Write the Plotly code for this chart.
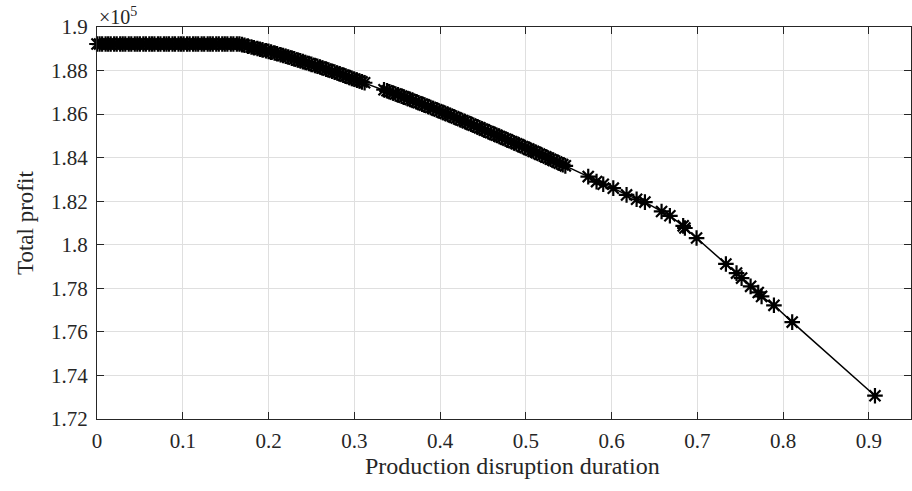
import numpy as np
import plotly.graph_objects as go

# Production disruption duration (x) and total profit (y)
duration = [
    0, 0.003, 0.006, 0.010, 0.013, 0.016, 0.020, 0.023, 0.027, 0.030,
    0.033, 0.037, 0.040, 0.044, 0.047, 0.050, 0.054, 0.057, 0.061, 0.064,
    0.067, 0.071, 0.074, 0.078, 0.081, 0.084, 0.088, 0.091, 0.095, 0.098,
    0.101, 0.105, 0.108, 0.112, 0.115, 0.118, 0.122, 0.125, 0.129, 0.132,
    0.135, 0.139, 0.142, 0.146, 0.149, 0.152, 0.156, 0.159, 0.163, 0.166,
    0.169, 0.172, 0.176, 0.180, 0.183, 0.187, 0.190, 0.193, 0.197, 0.200,
    0.203, 0.207, 0.210, 0.214, 0.217, 0.220, 0.223, 0.227, 0.230, 0.234,
    0.237, 0.240, 0.243, 0.247, 0.250, 0.254, 0.257, 0.260, 0.263, 0.267,
    0.270, 0.274, 0.277, 0.280, 0.283, 0.287, 0.290, 0.294, 0.297, 0.300,
    0.303, 0.306, 0.309, 0.312,
    0.3346, 0.338, 0.341, 0.345, 0.348, 0.351, 0.355, 0.358, 0.362, 0.365,
    0.368, 0.372, 0.375, 0.379, 0.382, 0.386, 0.389, 0.392, 0.396, 0.399,
    0.403, 0.406, 0.409, 0.412, 0.416, 0.419, 0.423, 0.426, 0.429, 0.432,
    0.436, 0.439, 0.443, 0.446, 0.449, 0.452, 0.456, 0.459, 0.463, 0.466,
    0.469, 0.472, 0.476, 0.479, 0.483, 0.486, 0.489, 0.492, 0.496, 0.499,
    0.503, 0.506, 0.509, 0.512, 0.516, 0.519, 0.523, 0.526, 0.529, 0.532,
    0.536, 0.539, 0.543, 0.546,
    0.5727, 0.5824, 0.5902, 0.6019, 0.6174, 0.6291, 0.6388, 0.6582, 0.6679,
    0.6834, 0.6854, 0.6990, 0.7332, 0.7456, 0.7515, 0.7620, 0.7709, 0.7748,
    0.7892, 0.8105, 0.907,
]

total_profit = [
    189220, 189218, 189222, 189220, 189219, 189221, 189220, 189222, 189218, 189220,
    189221, 189219, 189220, 189222, 189220, 189218, 189220, 189221, 189220, 189219,
    189222, 189220, 189218, 189220, 189221, 189220, 189219, 189222, 189220, 189218,
    189220, 189221, 189220, 189219, 189222, 189220, 189218, 189220, 189221, 189220,
    189219, 189222, 189220, 189218, 189220, 189221, 189220, 189219, 189222, 189220,
    189190, 189160, 189120, 189080, 189050, 189010, 188980, 188950, 188910, 188880,
    188847, 188803, 188770, 188726, 188693, 188660, 188622, 188572, 188535, 188485,
    188447, 188410, 188372, 188322, 188285, 188235, 188197, 188160, 188119, 188065,
    188025, 187971, 187930, 187890, 187846, 187788, 187745, 187687, 187643, 187600,
    187560, 187520, 187480, 187440,
    187120, 187070, 187027, 186968, 186925, 186885, 186825, 186780, 186720, 186675,
    186630, 186569, 186522, 186460, 186414, 186352, 186305, 186258, 186194, 186146,
    186082, 186034, 185986, 185937, 185871, 185821, 185755, 185706, 185656, 185606,
    185538, 185487, 185419, 185368, 185317, 185266, 185198, 185147, 185079, 185028,
    184977, 184926, 184858, 184807, 184739, 184688, 184637, 184585, 184515, 184462,
    184392, 184340, 184287, 184234, 184162, 184108, 184036, 183982, 183928, 183874,
    183803, 183750, 183678, 183625,
    183130, 182900, 182780, 182600, 182290, 182090, 181960, 181530, 181330,
    180870, 180770, 180310, 179120, 178700, 178470, 178090, 177810, 177630,
    177220, 176450, 173070,
]

x_ticks = [0, 0.1, 0.2, 0.3, 0.4, 0.5, 0.6, 0.7, 0.8, 0.9]
x_tick_labels = ["0", "0.1", "0.2", "0.3", "0.4", "0.5", "0.6", "0.7", "0.8", "0.9"]
y_ticks = [1.72, 1.74, 1.76, 1.78, 1.80, 1.82, 1.84, 1.86, 1.88, 1.90]
y_tick_labels = ["1.72", "1.74", "1.76", "1.78", "1.8", "1.82", "1.84", "1.86", "1.88", "1.9"]

y_scaled = np.array(total_profit) / 1e5

FONT = "Liberation Serif"
AX = "#262626"

fig = go.Figure()
fig.add_trace(go.Scatter(
    x=duration, y=y_scaled, mode="lines+markers",
    line=dict(color="black", width=1.5),
    marker=dict(symbol="asterisk-open", size=13, color="black",
                line=dict(color="#111111", width=2.2)),
    cliponaxis=False, showlegend=False,
))

axis_common = dict(
    showline=True, linecolor=AX, linewidth=1, mirror="ticks",
    ticks="inside", ticklen=7, tickwidth=1, tickcolor=AX,
    showgrid=True, gridcolor="#dfdfdf", gridwidth=1, zeroline=False,
    tickfont=dict(family=FONT, size=21, color=AX),
    automargin=False,
)

fig.update_layout(
    width=912, height=491,
    margin=dict(l=97, r=1, t=27, b=72),
    paper_bgcolor="white", plot_bgcolor="white",
    font=dict(family=FONT, color=AX),
    xaxis=dict(range=[0, 0.949], tickvals=x_ticks, ticktext=x_tick_labels,
               ticklabelstandoff=3, **axis_common),
    yaxis=dict(range=[1.72, 1.90], tickvals=y_ticks, ticktext=y_tick_labels,
               ticklabelstandoff=4, **axis_common),
    annotations=[
        dict(text="×10<sup>5</sup>", xref="paper", yref="paper", x=0, y=1,
             xanchor="left", yanchor="bottom", showarrow=False, yshift=-3,
             font=dict(family=FONT, size=20, color=AX)),
        dict(text="Production disruption duration", xref="paper", yref="paper",
             x=0.5, y=0, xanchor="center", yanchor="middle", yshift=-47,
             xshift=8, showarrow=False, font=dict(family=FONT, size=24, color=AX)),
        dict(text="Total profit", xref="paper", yref="paper",
             x=0, y=0.5, xanchor="center", yanchor="middle", xshift=-72,
             textangle=-90, showarrow=False,
             font=dict(family=FONT, size=23, color=AX)),
    ],
)

# remove the default page margin so the figure sits at the window's top-left corner
fig.write_html("out.html", config={"displayModeBar": False},
               post_script="document.body.style.margin='0';")
